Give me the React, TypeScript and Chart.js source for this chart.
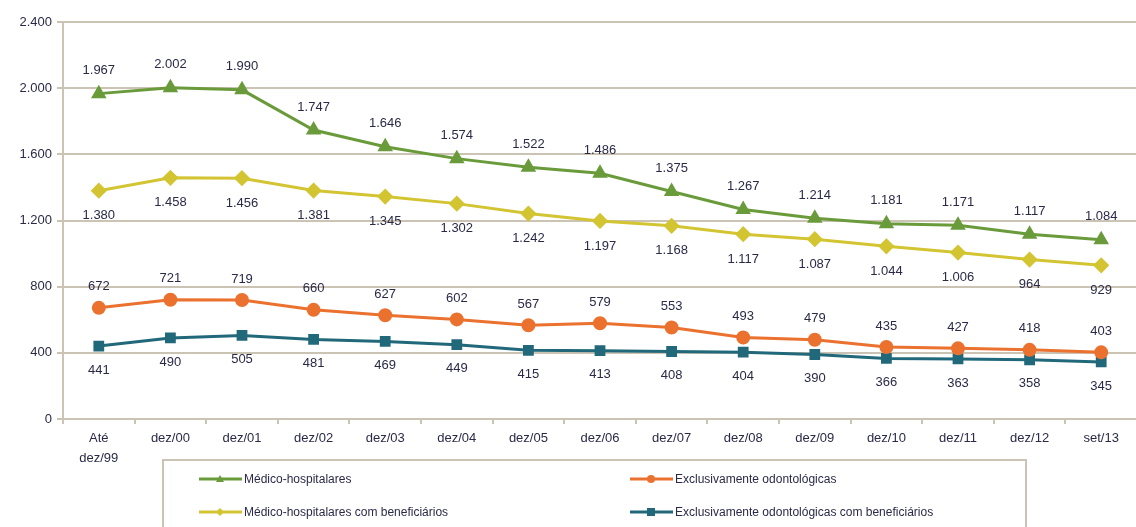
import React, { useEffect, useRef } from "react";
import { Chart, registerables } from "chart.js";

Chart.register(...registerables);

const categories: (string | string[])[] = [
  ["Até", "dez/99"], "dez/00", "dez/01", "dez/02", "dez/03", "dez/04", "dez/05",
  "dez/06", "dez/07", "dez/08", "dez/09", "dez/10", "dez/11", "dez/12", "set/13",
];

const medicoHosp = [1967, 2002, 1990, 1747, 1646, 1574, 1522, 1486, 1375, 1267, 1214, 1181, 1171, 1117, 1084];
const medicoHospBenef = [1380, 1458, 1456, 1381, 1345, 1302, 1242, 1197, 1168, 1117, 1087, 1044, 1006, 964, 929];
const odonto = [672, 721, 719, 660, 627, 602, 567, 579, 553, 493, 479, 435, 427, 418, 403];
const odontoBenef = [441, 490, 505, 481, 469, 449, 415, 413, 408, 404, 390, 366, 363, 358, 345];

const yTicks = [0, 400, 800, 1200, 1600, 2000, 2400];

const seriesNames = [
  "Médico-hospitalares",
  "Exclusivamente odontológicas",
  "Médico-hospitalares com beneficiários",
  "Exclusivamente odontológicas com beneficiários",
];

const GREEN = "#6a9b3b";
const YELLOW = "#d3c432";
const ORANGE = "#eb712f";
const TEAL = "#21697a";
const GRID = "#cbc3b4";
const TEXT = "#2a2a48";
const FONT = "Liberation Sans, Arial, sans-serif";

const fmt = (v: number) => v.toLocaleString("pt-BR");

// label offsets: negative = above, positive = below
const labelOffsets = [-23, 25, -21, 24];

const labelsPlugin = {
  id: "valueLabels",
  afterDatasetsDraw(chart: any) {
    const ctx = chart.ctx;
    ctx.save();
    ctx.font = `13px ${FONT}`;
    ctx.fillStyle = TEXT;
    ctx.textAlign = "center";
    ctx.textBaseline = "middle";
    chart.data.datasets.forEach((ds: any, i: number) => {
      const meta = chart.getDatasetMeta(i);
      meta.data.forEach((pt: any, j: number) => {
        ctx.fillText(fmt(ds.data[j]), pt.x, pt.y + labelOffsets[i]);
      });
    });
    ctx.restore();
  },
};

const legendPlugin = {
  id: "boxLegend",
  afterDraw(chart: any) {
    const ctx = chart.ctx;
    const ds = chart.data.datasets;
    ctx.save();
    ctx.strokeStyle = GRID;
    ctx.lineWidth = 2;
    ctx.strokeRect(163, 460, 863, 90);
    const items = [
      { d: ds[0], x: 199, y: 479 },
      { d: ds[2], x: 630, y: 479 },
      { d: ds[1], x: 199, y: 512 },
      { d: ds[3], x: 630, y: 512 },
    ];
    ctx.font = `12px ${FONT}`;
    ctx.textBaseline = "middle";
    ctx.textAlign = "left";
    items.forEach((it) => {
      const c = it.d.borderColor;
      ctx.strokeStyle = c;
      ctx.fillStyle = c;
      ctx.lineWidth = 3;
      ctx.beginPath();
      ctx.moveTo(it.x, it.y);
      ctx.lineTo(it.x + 43, it.y);
      ctx.stroke();
      const cx = it.x + 21;
      const ps = it.d.pointStyle;
      ctx.beginPath();
      if (ps === "triangle") {
        ctx.moveTo(cx, it.y - 4);
        ctx.lineTo(cx + 4, it.y + 3);
        ctx.lineTo(cx - 4, it.y + 3);
        ctx.closePath();
      } else if (ps === "rectRot") {
        ctx.moveTo(cx, it.y - 4);
        ctx.lineTo(cx + 4, it.y);
        ctx.lineTo(cx, it.y + 4);
        ctx.lineTo(cx - 4, it.y);
        ctx.closePath();
      } else if (ps === "circle") {
        ctx.arc(cx, it.y, 4, 0, Math.PI * 2);
      } else {
        ctx.rect(cx - 4, it.y - 4, 8, 8);
      }
      ctx.fill();
      ctx.fillStyle = TEXT;
      ctx.fillText(it.d.label, it.x + 45, it.y + 1);
    });
    ctx.restore();
  },
};

export default function App() {
  const ref = useRef<HTMLCanvasElement>(null);
  useEffect(() => {
    if (!ref.current) return;
    const mk = (label: string, data: number[], color: string, pointStyle: string, radius: number) => ({
      label,
      data,
      borderColor: color,
      backgroundColor: color,
      pointBackgroundColor: color,
      pointBorderColor: color,
      pointStyle,
      pointRadius: radius,
      borderWidth: 3,
      tension: 0,
    });
    const chart = new Chart(ref.current, {
      type: "line",
      data: {
        labels: categories,
        datasets: [
          mk(seriesNames[0], medicoHosp, GREEN, "triangle", 6),
          mk(seriesNames[2], medicoHospBenef, YELLOW, "rectRot", 6),
          mk(seriesNames[1], odonto, ORANGE, "circle", 5.5),
          mk(seriesNames[3], odontoBenef, TEAL, "rect", 5.5),
        ] as any,
      },
      options: {
        animation: false,
        responsive: false,
        maintainAspectRatio: false,
        layout: { padding: { top: 22, left: 0, right: 4, bottom: 0 } },
        plugins: { legend: { display: false }, tooltip: { enabled: false } },
        scales: {
          x: {
            offset: true,
            grid: {
              offset: true,
              drawOnChartArea: false,
              drawTicks: true,
              tickLength: 5,
              color: GRID,
              lineWidth: 2,
            },
            border: { color: GRID, width: 2 },
            ticks: {
              color: TEXT,
              font: { family: FONT, size: 13, lineHeight: 1.5 },
              padding: 5,
              maxRotation: 0,
              autoSkip: false,
            },
            afterFit: (s: any) => {
              s.height = 108;
            },
          },
          y: {
            min: 0,
            max: 2400,
            afterBuildTicks: (s: any) => {
              s.ticks = yTicks.map((v) => ({ value: v }));
            },
            grid: { color: GRID, lineWidth: 2, tickLength: 6 },
            border: { color: GRID, width: 2 },
            ticks: {
              color: TEXT,
              font: { family: FONT, size: 13 },
              padding: 5,
              callback: (v: any) => fmt(Number(v)),
            },
            afterFit: (s: any) => {
              s.width = 63;
            },
          },
        },
      },
      plugins: [labelsPlugin, legendPlugin],
    });
    return () => chart.destroy();
  }, []);
  return (
    <div style={{ position: "absolute", left: 0, top: 0, width: 1136, height: 527, overflow: "hidden", background: "#fff" }}>
      <canvas ref={ref} width={1146} height={527} style={{ display: "block", width: 1146, height: 527 }} />
    </div>
  );
}
